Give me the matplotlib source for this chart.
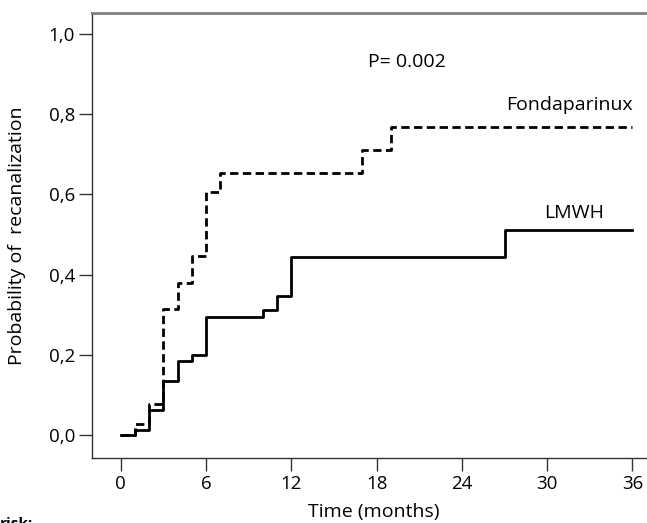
import matplotlib
matplotlib.use("Agg")
import matplotlib.pyplot as plt

plt.rcParams['font.family'] = ['Open Sans', 'DejaVu Sans']

# Data
fonda_t = [0, 1, 2, 3, 4, 5, 6, 7, 17, 19, 36]
fonda_p = [0, 0.026, 0.078, 0.314, 0.378, 0.447, 0.605, 0.653, 0.712, 0.769, 0.769]
lmwh_t = [0, 1, 2, 3, 4, 5, 6, 10, 11, 12, 27, 36]
lmwh_p = [0, 0.013, 0.062, 0.135, 0.185, 0.200, 0.293, 0.312, 0.347, 0.443, 0.512, 0.512]
xticks = [0, 6, 12, 18, 24, 30, 36]
yticks = [0.0, 0.2, 0.4, 0.6, 0.8, 1.0]
ytick_labels = ["0,0", "0,2", "0,4", "0,6", "0,8", "1,0"]

fig = plt.figure(figsize=(6.47, 5.23), dpi=100)
ax = fig.add_axes([0.1427, 0.1249, 0.87, 0.8497])

ax.step(fonda_t, fonda_p, where='post', color='black', lw=2.0,
        linestyle=(0, (3, 1.6)), zorder=3)
ax.step(lmwh_t, lmwh_p, where='post', color='black', lw=2.0, zorder=4)

ax.set_xlim(-2.0, 37.6)
ax.set_ylim(-0.057, 1.052)
ax.set_xticks(xticks)
ax.set_yticks(yticks)
ax.set_yticklabels(ytick_labels)
ax.tick_params(axis='both', direction='out', length=9.5, width=1.0,
               color='#333333', labelsize=13.5, pad=3)

for s in ['left', 'bottom']:
    ax.spines[s].set_color('#333333')
    ax.spines[s].set_linewidth(1.0)
ax.spines['top'].set_color('#7f7f7f')
ax.spines['top'].set_linewidth(2.0)
ax.spines['right'].set_visible(False)

ax.set_xlabel('Time (months)', fontsize=14, labelpad=7.5)
ax.set_ylabel('Probability of  recanalization', fontsize=14, labelpad=16)

ax.text(20.1, 0.93, 'P= 0.002', fontsize=14, ha='center', va='center')
ax.text(36.0, 0.823, 'Fondaparinux', fontsize=14, ha='right', va='center')
ax.text(31.9, 0.553, 'LMWH', fontsize=14, ha='center', va='center')

fig.text(0.0, -0.016, 'risk:', fontsize=11, fontweight='bold', ha='left', va='bottom')

fig.savefig('out.png', dpi=100)
